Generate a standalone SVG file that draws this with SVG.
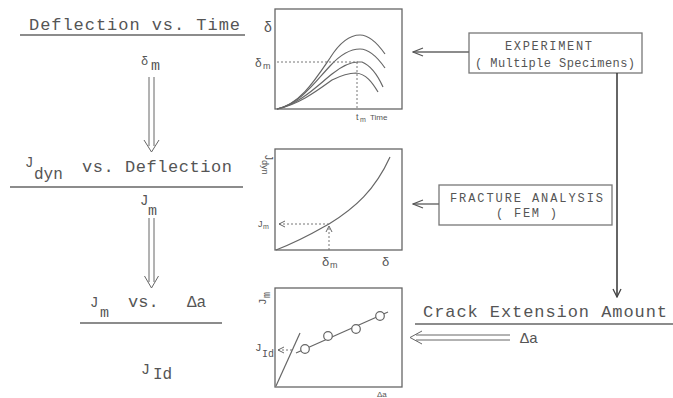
<svg xmlns="http://www.w3.org/2000/svg" width="673" height="398" viewBox="0 0 673 398">
<defs>
<style>
.m{font-family:"Liberation Mono","DejaVu Sans Mono",monospace;fill:#555}
.s{font-family:"Liberation Sans","DejaVu Sans",sans-serif;fill:#555}
.ln{stroke:#666;stroke-width:1.4;fill:none}
.bx{stroke:#777;stroke-width:1.3;fill:#fff}
.ax{stroke:#666;stroke-width:1.3;fill:none}
.cv{stroke:#666;stroke-width:1.2;fill:none}
.dash{stroke:#777;stroke-width:1;stroke-dasharray:2,2;fill:none}
.dbl{stroke:#666;stroke-width:1;fill:none}
</style>
<marker id="open" markerWidth="12" markerHeight="10" refX="11" refY="5" orient="auto" markerUnits="userSpaceOnUse">
<path d="M1,1 L11,5 L1,9" fill="none" stroke="#555" stroke-width="1.2"/>
</marker>
<marker id="small" markerWidth="8" markerHeight="8" refX="7" refY="4" orient="auto" markerUnits="userSpaceOnUse">
<path d="M1,1 L7,4 L1,7" fill="none" stroke="#666" stroke-width="1"/>
</marker>
<marker id="down" markerWidth="10" markerHeight="10" refX="5" refY="9" orient="0" markerUnits="userSpaceOnUse">
<path d="M1,1 L5,9 L9,1" fill="none" stroke="#444" stroke-width="1.3"/>
</marker>
</defs>
<rect width="673" height="398" fill="#fff"/>

<g id="label-deflection-time">
<text class="m" x="29" y="30" font-size="17" textLength="211" lengthAdjust="spacing">Deflection vs. Time</text>
<line class="ln" x1="20" y1="35" x2="245" y2="35"/>
</g>
<g id="label-delta-m">
<text class="m" x="141" y="65" font-size="12">δ</text>
<text class="m" x="151" y="70" font-size="15">m</text>
</g>
<g id="label-jdyn-deflection">
<text class="m" x="25" y="167" font-size="14">J</text>
<text class="m" x="34" y="179" font-size="16">dyn</text>
<text class="m" x="82" y="172" font-size="17" textLength="150" lengthAdjust="spacing">vs. Deflection</text>
<line class="ln" x1="10" y1="187" x2="243" y2="187"/>
</g>
<g id="label-jm">
<text class="m" x="140" y="205" font-size="14">J</text>
<text class="m" x="148" y="215" font-size="15">m</text>
</g>
<g id="label-jm-da">
<text class="m" x="90" y="307" font-size="14">J</text>
<text class="m" x="100" y="317" font-size="15">m</text>
<text class="m" x="128" y="307" font-size="17">vs.</text>
<text class="m" x="187" y="307" font-size="16">Δa</text>
<line class="ln" x1="80" y1="323" x2="222" y2="323"/>
</g>
<g id="label-jid">
<text class="m" x="141" y="374" font-size="15">J</text>
<text class="m" x="153" y="379" font-size="16">Id</text>
</g>

<g id="graph-deflection-time">
<rect class="ax" x="275" y="9" width="127" height="100" fill="none"/>
<path class="cv" d="M277,109 C300,104 315,80 330,58 C340,42 350,35 360,35 C370,35 378,44 385,54"/>
<path class="cv" d="M277,109 C300,104 315,82 330,66 C340,55 350,49 360,49 C370,49 378,58 385,68"/>
<path class="cv" d="M277,109 C300,104 318,85 332,74 C342,66 350,62 358,62 L362,62 C372,66 378,76 383,87"/>
<path class="cv" d="M277,109 C300,104 318,90 332,80 C342,75 350,73 356,73 C366,74 372,82 378,92"/>
<line class="dash" x1="277" y1="62" x2="358" y2="62"/>
<line class="dash" x1="357" y1="62" x2="357" y2="110"/>
<text class="s" x="264" y="32" font-size="14">δ</text>
<text class="s" x="255" y="67" font-size="12">δ</text>
<text class="s" x="263" y="69" font-size="9">m</text>
<text class="s" x="356" y="120" font-size="9">t</text>
<text class="s" x="360" y="122" font-size="7">m</text>
<text class="s" x="370" y="120" font-size="8">Time</text>
</g>

<g id="graph-jdyn-deflection">
<rect class="ax" x="275" y="149" width="127" height="101" fill="none"/>
<path class="cv" d="M276,250 C300,241 315,232 329,224 C355,208 375,190 390,157"/>
<line class="dash" x1="329" y1="224" x2="279" y2="224" marker-end="url(#small)"/>
<line class="dash" x1="329" y1="250" x2="329" y2="226" marker-end="url(#small)"/>
<text class="s" x="258" y="227" font-size="9">J</text>
<text class="s" x="263" y="229" font-size="7">m</text>
<g transform="translate(265,155) rotate(90)">
<text class="s" x="0" y="0" font-size="10">J</text>
<text class="s" x="5" y="3" font-size="9">dyn</text>
</g>
<text class="s" x="322" y="266" font-size="13">δ</text>
<text class="s" x="330" y="268" font-size="9">m</text>
<text class="s" x="382" y="266" font-size="13">δ</text>
</g>

<g id="graph-jm-da">
<rect class="ax" x="275" y="288" width="127" height="99" fill="none"/>
<line class="cv" x1="276" y1="386" x2="300" y2="333"/>
<line class="cv" x1="296" y1="353" x2="388" y2="312"/>
<line class="dash" x1="292" y1="350" x2="278" y2="350" marker-end="url(#small)"/>
<circle cx="305" cy="349" r="4.3" fill="#fff" stroke="#666" stroke-width="1.2"/>
<circle cx="328" cy="336" r="4.3" fill="#fff" stroke="#666" stroke-width="1.2"/>
<circle cx="356" cy="329" r="4.3" fill="#fff" stroke="#666" stroke-width="1.2"/>
<circle cx="380" cy="316" r="4.3" fill="#fff" stroke="#666" stroke-width="1.2"/>
<g transform="translate(266,305) rotate(-90)">
<text class="m" x="0" y="0" font-size="11">J</text>
<text class="m" x="7" y="4" font-size="10">m</text>
</g>
<text class="m" x="255" y="351" font-size="11">J</text>
<text class="m" x="262" y="357" font-size="10">Id</text>
<text class="s" x="377" y="397" font-size="8">Δa</text>
</g>

<g id="box-experiment">
<rect class="bx" x="469" y="33" width="173" height="40"/>
<text class="m" x="505" y="50" font-size="12" textLength="87" lengthAdjust="spacing">EXPERIMENT</text>
<text class="m" x="475" y="67" font-size="12" textLength="160" lengthAdjust="spacing">( Multiple Specimens)</text>
</g>
<g id="box-fracture">
<rect class="bx" x="439" y="185" width="173" height="40"/>
<text class="m" x="450" y="202" font-size="12" textLength="153" lengthAdjust="spacing">FRACTURE ANALYSIS</text>
<text class="m" x="496" y="217" font-size="12" textLength="61" lengthAdjust="spacing">( FEM )</text>
</g>
<g id="label-crack-extension">
<text class="m" x="423" y="317" font-size="17" textLength="244" lengthAdjust="spacing">Crack Extension Amount</text>
<line class="ln" x1="415" y1="324" x2="673" y2="324"/>
<text class="m" x="520" y="343" font-size="15">Δa</text>
</g>

<g id="connectors">
<line class="ln" x1="469" y1="52" x2="413" y2="52" marker-end="url(#open)"/>
<line class="ln" x1="439" y1="204" x2="413" y2="204" marker-end="url(#open)"/>
<line x1="617" y1="73" x2="617" y2="297" stroke="#333" stroke-width="1.5" marker-end="url(#down)"/>
<path class="dbl" d="M149,77 V146 M154,77 V146 M144,140 L151.5,152 L159,140"/>
<path class="dbl" d="M149,218 V282 M154,218 V282 M144.5,276 L151.5,288 L158.5,276"/>
<path class="dbl" d="M416,335 H510 M416,340 H510 M422,331 L410,337.5 L422,344"/>
</g>
</svg>
